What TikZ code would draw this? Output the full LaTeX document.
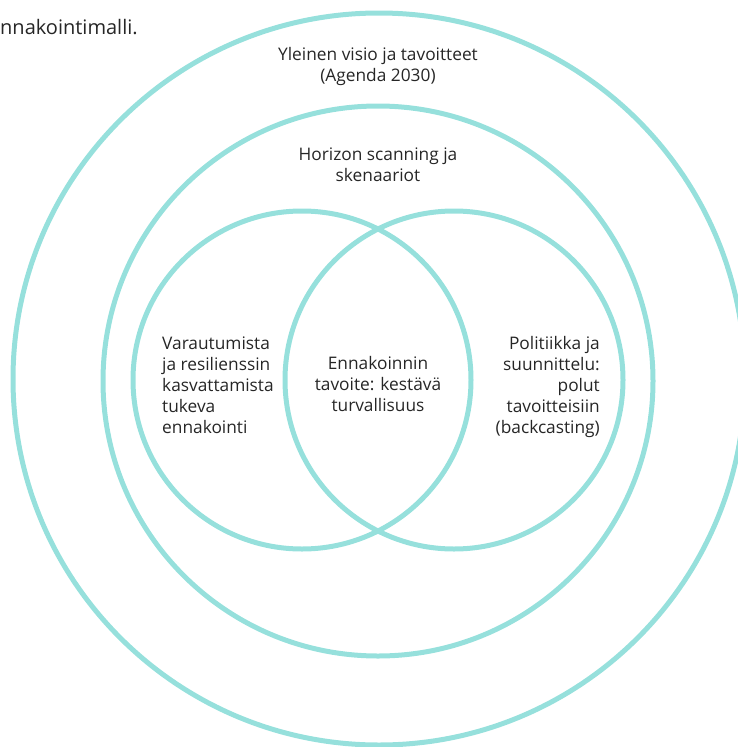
\documentclass[tikz,border=0pt]{standalone}
\usepackage{fontspec}
\setmainfont{Open Sans}
\definecolor{ringcolor}{RGB}{150,224,220}
\begin{document}
\begin{tikzpicture}[
			x=1pt, y=-1pt,
			ring/.style={
				circle,
				draw=ringcolor,
				line width=5pt,
				inner sep=0
			},
			txt/.style={
				font=\fontsize{17.3}{21}\selectfont,
				text=black!85,
				inner sep=0
			}
		]
		\useasboundingbox (0,0) rectangle (738,747);

		\node [ring, minimum size=732pt] (OUT) at (379,379) {};
		\node [ring, minimum size=550pt] (MID) at (378,381) {};
		\node [ring, minimum size=338pt] (LEFT) at (302,380) {};
		\node [ring, minimum size=338pt] (RIGHT) at (454,380) {};

		\node [txt, anchor=west, font=\fontsize{20}{24}\selectfont] (T) at (0,27) {nnakointimalli.};
		\node [txt, align=center] (VISIO) at (378,67) {Yleinen visio ja tavoitteet\\(Agenda 2030)};
		\node [txt, align=center] (HS) at (378,165) {Horizon scanning ja\\skenaariot};
		\node [txt, align=left, anchor=west] (VAR) at (162,385) {Varautumista\\ja resilienssin\\kasvattamista\\tukeva\\ennakointi};
		\node [txt, align=center] (GOAL) at (378,384) {Ennakoinnin\\tavoite: kestävä\\turvallisuus};
		\node [txt, align=right, anchor=east] (POL) at (600,387) {Politiikka ja\\suunnittelu:\\polut\\tavoitteisiin\\(backcasting)};
		%\node [txt] (X) at (MID.south) {};

	\end{tikzpicture}
\end{document}
